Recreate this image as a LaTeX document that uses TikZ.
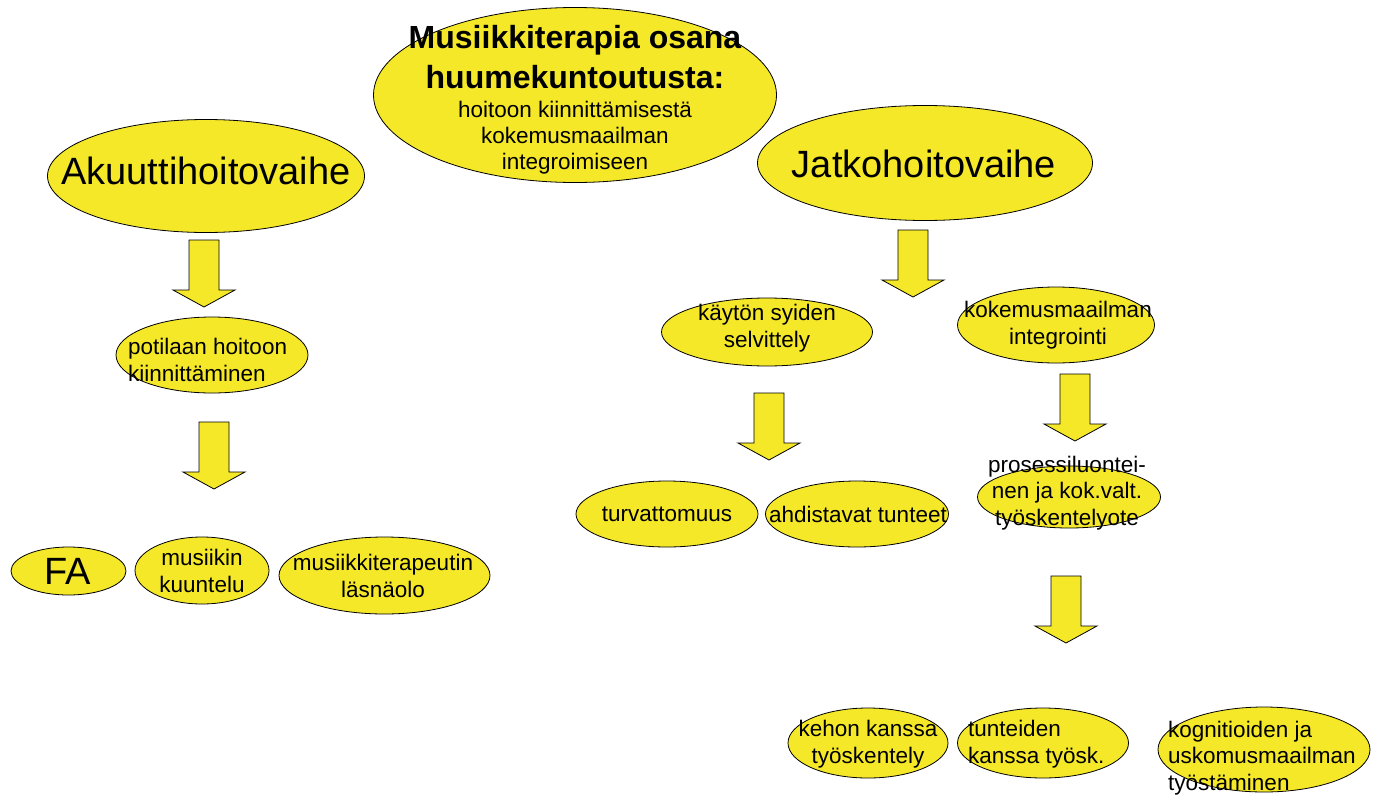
\documentclass[tikz,border=0pt]{standalone}
\usepackage{fontspec}
\setmainfont{Liberation Sans}
\usetikzlibrary{shapes.geometric,positioning}
\definecolor{hy}{HTML}{F5E829}

\tikzset{
  downarrow/.pic={
    \draw[fill=hy, line width=0.8pt, line join=miter]
      (-15,0) -- (15,0) -- (15,50) -- (31,50) -- (0,67) -- (-31,50) -- (-15,50) -- cycle;
  }
}

\begin{document}
\begin{tikzpicture}[
  x=1pt, y=-1pt,
  blob/.style={ellipse, draw, fill=hy, line width=0.8pt, inner sep=0pt},
  big/.style={font=\fontsize{38}{44}\selectfont, inner sep=0pt},
  lbl/.style={font=\fontsize{22.5}{26.5}\selectfont, align=center, inner sep=0pt}
]
\useasboundingbox (0,0) rectangle (1373,795);

% ellipses
\node[blob, minimum width=403pt, minimum height=175pt] (title) at (575,95) {};
\node[blob, minimum width=317pt, minimum height=113pt] (akuutti) at (206,176) {};
\node[blob, minimum width=335pt, minimum height=115pt] (jatko) at (925,163) {};
\node[blob, minimum width=192pt, minimum height=76pt] (potilas) at (212,355) {};
\node[blob, minimum width=115pt, minimum height=48pt] (fa) at (68.5,571) {};
\node[blob, minimum width=134pt, minimum height=67pt] (kuuntelu) at (202,570.5) {};
\node[blob, minimum width=211pt, minimum height=77pt] (lasnaolo) at (384.5,575.5) {};
\node[blob, minimum width=211pt, minimum height=68pt] (kaytto) at (767,332) {};
\node[blob, minimum width=197pt, minimum height=76pt] (kokemus) at (1056,325) {};
\node[blob, minimum width=182pt, minimum height=66pt] (turva) at (667,514) {};
\node[blob, minimum width=183pt, minimum height=66pt] (ahdistus) at (857,514) {};
\node[blob, minimum width=183pt, minimum height=62pt] (prosessi) at (1069,497) {};
\node[blob, minimum width=160pt, minimum height=70pt] (keho) at (868,743) {};
\node[blob, minimum width=171pt, minimum height=70pt] (tunteet) at (1043,743) {};
\node[blob, minimum width=212pt, minimum height=85pt] (kognitio) at (1264,749.5) {};

% block arrows
\pic at (204,240) {downarrow};
\pic at (214,422) {downarrow};
\pic at (913,230) {downarrow};
\pic at (769,393) {downarrow};
\pic at (1075,374) {downarrow};
\pic at (1066,576) {downarrow};

% texts
\node[font=\fontsize{32}{40}\selectfont\bfseries, align=center, inner sep=0pt, anchor=north]
  (title-txt) at (575,25) {Musiikkiterapia osana\\huumekuntoutusta:};
\node[lbl, font=\fontsize{22.5}{26}\selectfont, anchor=north] (title-sub) at (575,101)
  {hoitoon kiinnittämisestä\\kokemusmaailman\\integroimiseen};
\node[big] (akuutti-txt) at (206,171) {Akuuttihoitovaihe};
\node[big] (jatko-txt) at (924,164) {Jatkohoitovaihe};
\node[lbl, align=left, anchor=west] (potilas-txt) at (128,360) {potilaan hoitoon\\kiinnittäminen};
\node[big] (fa-txt) at (68,571) {FA};
\node[lbl] (kuuntelu-txt) at (202,571) {musiikin\\kuuntelu};
\node[lbl] (lasnaolo-txt) at (383,576) {musiikkiterapeutin\\läsnäolo};
\node[lbl] (kaytto-txt) at (767,328) {käytön syiden\\selvittely};
\node[lbl] (kokemus-txt) at (1058,325) {kokemusmaailman\\integrointi};
\node[lbl] (turva-txt) at (667,514) {turvattomuus};
\node[lbl] (ahdistus-txt) at (858,514) {ahdistavat tunteet};
\node[lbl] (prosessi-txt) at (1067,493) {prosessiluontei-\\nen ja kok.valt.\\työskentelyote};
\node[lbl] (keho-txt) at (868,744) {kehon kanssa\\työskentely};
\node[lbl, align=left, anchor=west] (tunteet-txt) at (968,744) {tunteiden\\kanssa työsk.};
\node[lbl, align=left, anchor=west] (kognitio-txt) at (1168,758) {kognitioiden ja\\uskomusmaailman\\työstäminen};
\end{tikzpicture}
\end{document}
